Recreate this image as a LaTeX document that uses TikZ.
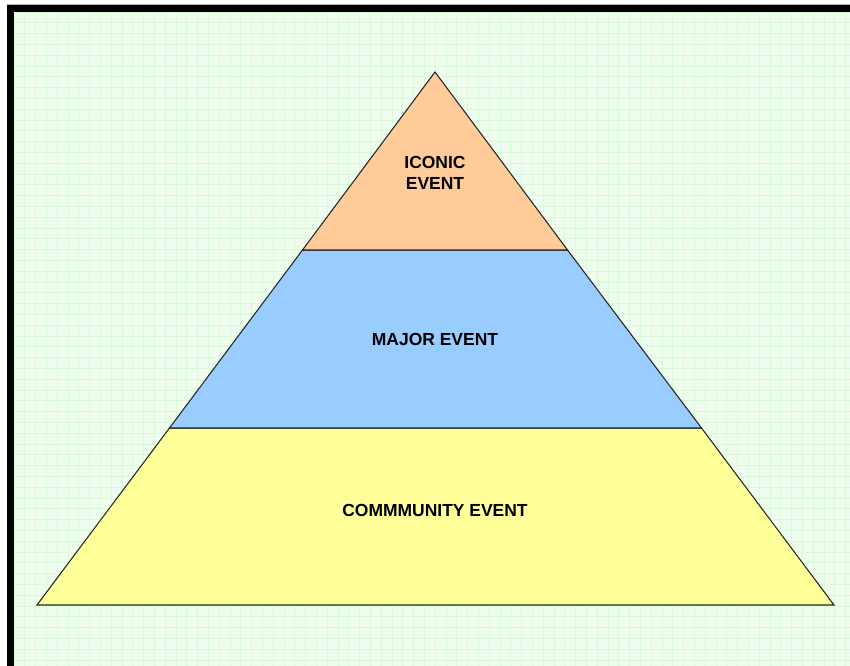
\documentclass[tikz,border=0pt]{standalone}
\usepackage{fontspec}
\setmainfont{Liberation Sans}
\definecolor{bggreen}{HTML}{EEFDEE}
\definecolor{gridgreen}{HTML}{DAF9DA}
\definecolor{peach}{HTML}{FFCC99}
\definecolor{skyblue}{HTML}{99CCFF}
\definecolor{paleyellow}{HTML}{FFFF99}
\tikzset{
  tier/.style={draw=black!85, line width=0.8pt, line join=miter},
  tierlabel/.style={font=\bfseries\fontsize{13.1}{15.8}\selectfont, align=center, inner sep=0pt},
}
\begin{document}
\begin{tikzpicture}[x=0.75pt,y=-0.75pt]
\useasboundingbox (0,0) rectangle (850,666);
\fill[white] (0,0) rectangle (850,666);
\begin{scope}
\clip (0,0) rectangle (850,666);
% background panel with grid
\fill[bggreen] (12,10) rectangle (850,666);
\foreach \i in {0,...,78} {
  \draw[gridgreen, line width=0.6pt] ({14+10.8*\i},12) -- ({14+10.8*\i},666);
}
\foreach \j in {0,...,61} {
  \draw[gridgreen, line width=0.6pt] (14,{12+10.8*\j}) -- (850,{12+10.8*\j});
}
% frame
\draw[black!30, line width=0.6pt] (7,4.3) -- (860,4.3);
\draw[black, line width=5.6pt, line join=miter] (10.4,700) -- (10.4,8.5) -- (870,8.5);
\end{scope}
% pyramid tiers
\coordinate (apex) at (435,72);
\coordinate (tl) at (302.5,250);
\coordinate (tr) at (567.5,250);
\coordinate (ml) at (169.5,428);
\coordinate (mr) at (701.5,428);
\coordinate (bl) at (37,605);
\coordinate (br) at (834,605);
\filldraw[tier, fill=paleyellow] (ml) -- (mr) -- (br) -- (bl) -- cycle;
\filldraw[tier, fill=skyblue] (tl) -- (tr) -- (mr) -- (ml) -- cycle;
\filldraw[tier, fill=peach] (apex) -- (tr) -- (tl) -- cycle;
\node[tierlabel] (iconic) at (435,172.5) {ICONIC\\EVENT};
\node[tierlabel] (major) at (435,339) {MAJOR EVENT};
\node[tierlabel] (community) at (435,510) {COMMMUNITY EVENT};
\end{tikzpicture}
\end{document}
